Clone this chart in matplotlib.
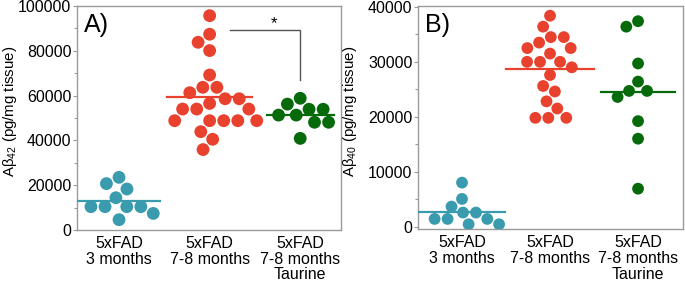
"""Two-panel beeswarm of Abeta42 / Abeta40 levels in 5xFAD mice."""

import matplotlib

matplotlib.use("Agg")
import matplotlib.pyplot as plt
import numpy as np

plt.rcParams["font.family"] = ["Liberation Sans", "DejaVu Sans"]
plt.rcParams["mathtext.fontset"] = "custom"
plt.rcParams["mathtext.rm"] = "Liberation Sans"
plt.rcParams["mathtext.it"] = "Liberation Sans:italic"

GROUPS = ["5xFAD\n3 months", "5xFAD\n7-8 months", "5xFAD\n7-8 months\nTaurine"]

# panel A: Abeta42 (pg/mg tissue)
A42_3M = [23500, 10400, 14400, 7400, 10400, 18300, 20700, 10400, 10400, 4600]
A42_78M = [95700, 87400, 83800, 80100, 69200, 63700, 63700, 61300, 58600, 58600,
           54000, 54000, 56500, 54000, 48800, 48800, 48800, 48800, 48800,
           43900, 40500, 35900]
A42_TAU = [56200, 58800, 53900, 51300, 53900, 51300, 48100, 48100, 40900]

# panel B: Abeta40 (pg/mg tissue)
A40_3M = [8000, 5030, 3640, 2550, 2550, 1390, 1390, 1390, 420, 420]
A40_78M = [38400, 36400, 34500, 34500, 33500, 32500, 32500, 31500, 30000, 30000,
           30000, 29000, 27600, 25600, 24600, 22800, 21500, 19800, 19800, 19800]
A40_TAU = [37400, 36400, 29700, 26400, 24700, 24700, 23600, 19200, 16000, 6900]

SIG_PAIR = (1.22, 2.0)
SIG_Y = (89300, 67000)

COLORS = ["#3A9BAE", "#E8412D", "#066A0B"]
SPINE = "#9A9A9A"


def swarm_x(ax, center, values, diam):
    """Simple beeswarm: closest-to-centre non-overlapping x, in pixel space."""
    vals = np.asarray(values, dtype=float)
    pts = ax.transData.transform(np.column_stack([np.full(len(vals), center), vals]))
    x0, ys = pts[0, 0], pts[:, 1]
    placed, xs = [], np.zeros(len(vals))
    for i in np.argsort(-vals, kind="stable"):
        y = ys[i]
        near = [(px, py) for px, py in placed if abs(py - y) < diam]
        cands = [0.0]
        for px, py in near:
            dx = np.sqrt(diam ** 2 - (py - y) ** 2)
            cands += [px - dx, px + dx]
        cands.sort(key=abs)
        for c in cands:
            if all((c - px) ** 2 + (y - py) ** 2 >= diam ** 2 - 1e-6 for px, py in near):
                break
        placed.append((c, y))
        xs[i] = c
    back = ax.transData.inverted().transform(np.column_stack([x0 + xs, ys]))
    return back[:, 0]


def panel(ax, data, xlim, ylim, major, minor, ylabel, letter, size, half, label_x):
    ax.set_xlim(*xlim)
    ax.set_ylim(*ylim)
    for i, vals in enumerate(data):
        xs = swarm_x(ax, i, vals, diam=np.sqrt(size) * 100 / 72 * 1.1)
        ax.scatter(xs, vals, s=size, color=COLORS[i], edgecolor="none", zorder=3)
        m = np.mean(vals)
        ax.plot([i - half[i], i + half[i]], [m, m], color=COLORS[i], lw=1.6, zorder=4)

    for sp in ax.spines.values():
        sp.set_color(SPINE)
        sp.set_linewidth(1.0)
    ax.set_yticks(major)
    ax.set_yticks(minor, minor=True)
    ax.tick_params(axis="y", which="major", length=3, width=0.8, color=SPINE,
                   labelsize=11.5, pad=1)
    ax.tick_params(axis="y", which="minor", length=2, width=0.8, color=SPINE)
    ax.set_xticks(range(len(GROUPS)))
    ax.set_xticklabels(GROUPS, fontsize=11.5, linespacing=1.08)
    ax.tick_params(axis="x", length=0, pad=4)
    ax.set_ylabel(ylabel, fontsize=10.8)
    ax.yaxis.set_label_coords(label_x, 0.53)
    ax.text(0.025, 0.97, letter, transform=ax.transAxes, fontsize=18,
            ha="left", va="top")


fig = plt.figure(figsize=(6.85, 2.89), dpi=100)
ax_a = fig.add_axes([0.1124, 0.2042, 0.3854, 0.7750])
ax_b = fig.add_axes([0.6102, 0.2075, 0.3868, 0.7705])

panel(ax_a, [A42_3M, A42_78M, A42_TAU], (-0.464, 2.45), (0, 100000),
      np.arange(0, 100001, 20000), np.arange(10000, 100000, 20000),
      r"A$\mathregular{\beta_{42}}$ (pg/mg tissue)", "A)", 85, [0.45, 0.47, 0.37],
      -0.22)
panel(ax_b, [A40_3M, A40_78M, A40_TAU], (-0.5, 2.51), (-450, 40100),
      np.arange(0, 40001, 10000), np.arange(5000, 40000, 10000),
      r"A$\mathregular{\beta_{40}}$ (pg/mg tissue)", "B)", 72, [0.49, 0.5, 0.42],
      -0.222)

ax_a.plot([SIG_PAIR[0], SIG_PAIR[1], SIG_PAIR[1]], [SIG_Y[0], SIG_Y[0], SIG_Y[1]],
          color="#555555", lw=1.0, zorder=2)
ax_a.text(1.71, SIG_Y[0] - 500, "*", ha="center", va="bottom", fontsize=12)

fig.savefig("out.png", dpi=100)
